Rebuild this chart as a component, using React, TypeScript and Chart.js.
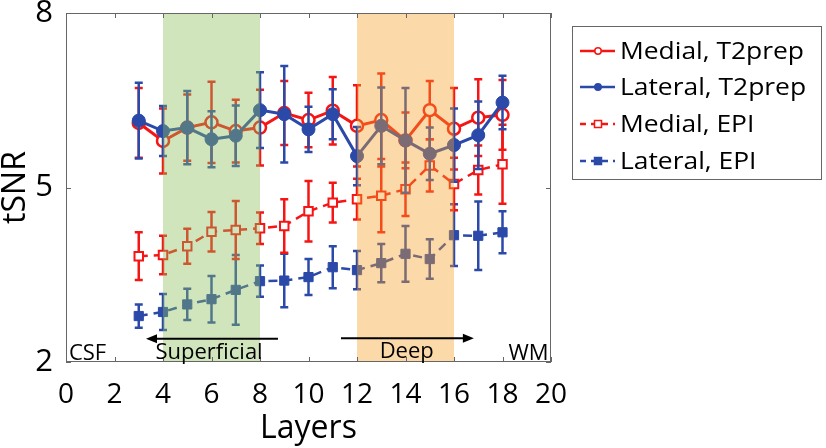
import React, { useEffect, useRef } from "react";
import { Chart, registerables } from "chart.js";

Chart.register(...registerables);

// ---- data ----
const layers = [3, 4, 5, 6, 7, 8, 9, 10, 11, 12, 13, 14, 15, 16, 17, 18];

const medialT2prep = [6.11, 5.8, 6.03, 6.12, 5.97, 6.03, 6.28, 6.16, 6.32, 6.06, 6.16, 5.81, 6.33, 6.01, 6.2, 6.25];
const medialT2prepErr = [0.6, 0.56, 0.57, 0.7, 0.54, 0.65, 0.55, 0.47, 0.58, 0.7, 0.8, 0.48, 0.5, 0.7, 0.66, 0.6];

const lateralT2prep = [6.15, 5.97, 6.03, 5.83, 5.89, 6.33, 6.26, 6.0, 6.26, 5.54, 6.06, 5.81, 5.58, 5.73, 5.9, 6.46];
const lateralT2prepErr = [0.65, 0.43, 0.63, 0.48, 0.52, 0.65, 0.83, 0.39, 0.43, 0.5, 0.66, 0.9, 0.45, 0.63, 0.58, 0.46];

const medialEPI = [3.82, 3.84, 3.99, 4.24, 4.27, 4.3, 4.34, 4.59, 4.74, 4.8, 4.86, 4.97, 5.38, 5.06, 5.3, 5.4];
const medialEPIErr = [0.41, 0.33, 0.3, 0.34, 0.5, 0.27, 0.46, 0.52, 0.34, 0.35, 0.63, 0.46, 0.45, 0.45, 0.42, 0.68];

const lateralEPI = [2.79, 2.86, 2.99, 3.08, 3.24, 3.39, 3.4, 3.46, 3.63, 3.58, 3.7, 3.86, 3.77, 4.18, 4.17, 4.23];
const lateralEPIErr = [0.2, 0.31, 0.27, 0.4, 0.6, 0.27, 0.46, 0.31, 0.36, 0.33, 0.33, 0.48, 0.34, 0.53, 0.59, 0.36];

const xTicks = [0, 2, 4, 6, 8, 10, 12, 14, 16, 18, 20];
const yTicks = [2, 5, 8];

const superficialBand = [4, 8];
const deepBand = [12, 16];

const seriesLabels = ["Medial, T2prep", "Lateral, T2prep", "Medial, EPI", "Lateral, EPI"];

// ---- styles ----
const RED = "#f51515";
const BLUE = "#2a49a8";
const FONT = "'Open Sans', 'DejaVu Sans', sans-serif";

const pts = (vals: number[]) => layers.map((x, i) => ({ x, y: vals[i] }));

const errorBarPlugin = {
  id: "errorBars",
  beforeDatasetDraw(chart: any, args: any) {
    const ds = chart.data.datasets[args.index];
    const errs: number[] = ds.errors;
    if (!errs) return;
    const xs = chart.scales.x;
    const ys = chart.scales.y;
    const ctx = chart.ctx;
    ctx.save();
    ctx.strokeStyle = ds.borderColor;
    ctx.lineWidth = ds.errWidth;
    ctx.setLineDash([]);
    ds.data.forEach((p: any, i: number) => {
      const x = xs.getPixelForValue(p.x);
      const y1 = ys.getPixelForValue(p.y + errs[i]);
      const y2 = ys.getPixelForValue(p.y - errs[i]);
      ctx.beginPath();
      ctx.moveTo(x, y1);
      ctx.lineTo(x, y2);
      ctx.moveTo(x - 4, y1);
      ctx.lineTo(x + 4, y1);
      ctx.moveTo(x - 4, y2);
      ctx.lineTo(x + 4, y2);
      ctx.stroke();
    });
    ctx.restore();
  },
};

const bandPlugin = {
  id: "bands",
  afterDatasetsDraw(chart: any) {
    const { ctx, chartArea } = chart;
    const xs = chart.scales.x;
    const draw = (band: number[], color: string) => {
      const a = xs.getPixelForValue(band[0]);
      const b = xs.getPixelForValue(band[1]);
      ctx.save();
      ctx.fillStyle = color;
      ctx.fillRect(a, chartArea.top, b - a, chartArea.bottom - chartArea.top);
      ctx.restore();
    };
    draw(superficialBand, "rgba(140,190,90,0.4)");
    draw(deepBand, "rgba(245,160,37,0.4)");
  },
};

const framePlugin = {
  id: "frame",
  afterDraw(chart: any) {
    const { ctx, chartArea } = chart;
    const xs = chart.scales.x;
    const ys = chart.scales.y;
    ctx.save();
    ctx.strokeStyle = "#666";
    ctx.lineWidth = 1;
    ctx.strokeRect(chartArea.left + 0.5, chartArea.top + 0.5, chartArea.right - chartArea.left - 1, chartArea.bottom - chartArea.top - 1);
    ctx.beginPath();
    xTicks.forEach((v) => {
      const x = Math.round(xs.getPixelForValue(v)) + 0.5;
      ctx.moveTo(x, chartArea.bottom);
      ctx.lineTo(x, chartArea.bottom - 5);
      ctx.moveTo(x, chartArea.top);
      ctx.lineTo(x, chartArea.top + 5);
    });
    yTicks.forEach((v) => {
      const y = Math.round(ys.getPixelForValue(v)) + 0.5;
      ctx.moveTo(chartArea.left, y);
      ctx.lineTo(chartArea.left + 5, y);
      ctx.moveTo(chartArea.right, y);
      ctx.lineTo(chartArea.right - 5, y);
    });
    ctx.stroke();

    // annotations
    ctx.fillStyle = "#000";
    ctx.strokeStyle = "#000";
    ctx.font = `22px ${FONT}`;
    ctx.textBaseline = "alphabetic";
    const base = ys.getPixelForValue(2) - 2;
    ctx.textAlign = "left";
    ctx.fillText("CSF", xs.getPixelForValue(0.12), base);
    ctx.textAlign = "right";
    ctx.fillText("WM", xs.getPixelForValue(19.9), base);
    ctx.textAlign = "center";
    ctx.fillText("Superficial", xs.getPixelForValue(5.9), base - 1);
    ctx.fillText("Deep", xs.getPixelForValue(14.05), base - 2);

    const arrow = (x0: number, x1: number, yv: number) => {
      const px0 = xs.getPixelForValue(x0);
      const px1 = xs.getPixelForValue(x1);
      const py = ys.getPixelForValue(yv);
      const dir = Math.sign(px1 - px0);
      ctx.lineWidth = 2;
      ctx.beginPath();
      ctx.moveTo(px0, py);
      ctx.lineTo(px1 - dir * 6, py);
      ctx.stroke();
      ctx.beginPath();
      ctx.moveTo(px1, py);
      ctx.lineTo(px1 - dir * 11, py - 4.5);
      ctx.lineTo(px1 - dir * 11, py + 4.5);
      ctx.closePath();
      ctx.fill();
    };
    arrow(8.74, 3.3, 2.4);
    arrow(11.34, 16.82, 2.41);

    // legend
    const lx = 572, ly = 26, lw = 249, lh = 153;
    ctx.strokeStyle = "#666";
    ctx.lineWidth = 1;
    ctx.strokeRect(lx + 0.5, ly + 0.5, lw, lh);
    const rowsY = [51, 87, 124, 161];
    const styles = [
      { color: RED, dash: [], shape: "circle", fill: "#fff" },
      { color: BLUE, dash: [], shape: "circle", fill: BLUE },
      { color: RED, dash: [6, 5], shape: "rect", fill: "#fff" },
      { color: BLUE, dash: [6, 5], shape: "rect", fill: BLUE },
    ];
    ctx.font = `24px ${FONT}`;
    const w0 = ctx.measureText(seriesLabels[0]).width;
    const sx = 184 / w0;
    seriesLabels.forEach((label, i) => {
      const st = styles[i];
      const y = rowsY[i];
      ctx.save();
      ctx.strokeStyle = st.color;
      ctx.lineWidth = 2.5;
      ctx.setLineDash(st.dash);
      ctx.beginPath();
      ctx.moveTo(580, y);
      ctx.lineTo(615, y);
      ctx.stroke();
      ctx.setLineDash([]);
      ctx.fillStyle = st.fill;
      ctx.lineWidth = 1.5;
      ctx.beginPath();
      if (st.shape === "circle") ctx.arc(598, y, 3.2, 0, Math.PI * 2);
      else ctx.rect(594.5, y - 3.5, 7, 7);
      ctx.fill();
      ctx.stroke();
      ctx.restore();
      ctx.save();
      ctx.fillStyle = "#000";
      ctx.textAlign = "left";
      ctx.textBaseline = "middle";
      ctx.translate(620, y);
      ctx.scale(sx, 1);
      ctx.fillText(label, 0, 1);
      ctx.restore();
    });
    ctx.restore();
  },
};

export default function App() {
  const ref = useRef<HTMLCanvasElement>(null);
  useEffect(() => {
    if (!ref.current) return;
    const chart = new Chart(ref.current, {
      type: "line",
      data: {
        datasets: [
          {
            label: seriesLabels[3],
            data: pts(lateralEPI),
            errors: lateralEPIErr,
            errWidth: 2.5,
            borderColor: BLUE,
            backgroundColor: BLUE,
            borderWidth: 2.5,
            borderDash: [9, 6],
            pointStyle: "rect",
            pointRadius: 6.5,
            pointBorderWidth: 1,
            pointBorderColor: BLUE,
            pointBackgroundColor: BLUE,
          } as any,
          {
            label: seriesLabels[2],
            data: pts(medialEPI),
            errors: medialEPIErr,
            errWidth: 2.5,
            borderColor: RED,
            backgroundColor: "#fff",
            borderWidth: 2.5,
            borderDash: [9, 6],
            pointStyle: "rect",
            pointRadius: 6,
            pointBorderWidth: 2,
            pointBorderColor: RED,
            pointBackgroundColor: "#fff",
          } as any,
          {
            label: seriesLabels[0],
            data: pts(medialT2prep),
            errors: medialT2prepErr,
            errWidth: 2.5,
            borderColor: RED,
            backgroundColor: "#fff",
            borderWidth: 3,
            pointStyle: "circle",
            pointRadius: 6,
            pointBorderWidth: 2.5,
            pointBorderColor: RED,
            pointBackgroundColor: "#fff",
          } as any,
          {
            label: seriesLabels[1],
            data: pts(lateralT2prep),
            errors: lateralT2prepErr,
            errWidth: 2.5,
            borderColor: BLUE,
            backgroundColor: BLUE,
            borderWidth: 3,
            pointStyle: "circle",
            pointRadius: 6.5,
            pointBorderWidth: 1,
            pointBorderColor: BLUE,
            pointBackgroundColor: BLUE,
          } as any,
        ].reverse(),
      },
      options: {
        animation: false,
        responsive: false,
        devicePixelRatio: 1,
        layout: { padding: { top: 13, right: 275, left: 0, bottom: 0 } },
        plugins: { legend: { display: false }, tooltip: { enabled: false } },
        scales: {
          x: {
            type: "linear",
            min: 0,
            max: 20,
            grid: { display: false },
            border: { display: false },
            ticks: { stepSize: 2, color: "#000", font: { family: FONT, size: 28 }, padding: 8, maxRotation: 0, autoSkip: false },
            title: { display: true, text: "Layers", color: "#000", font: { family: FONT, size: 32 }, padding: { top: 0, bottom: 0 } },
            afterFit(scale: any) {
              scale.height = 86;
              scale.paddingLeft = 0;
              scale.paddingRight = 0;
            },
          },
          y: {
            type: "linear",
            min: 2,
            max: 8,
            grid: { display: false },
            border: { display: false },
            afterBuildTicks(scale: any) {
              scale.ticks = yTicks.map((v) => ({ value: v }));
            },
            ticks: { color: "#000", font: { family: FONT, size: 31 }, padding: 5 },
            title: { display: true, text: "tSNR", color: "#000", font: { family: FONT, size: 32, lineHeight: 1 }, padding: 0 },
            afterFit(scale: any) {
              scale.width = 66;
              scale.paddingTop = 0;
              scale.paddingBottom = 0;
            },
          },
        },
      } as any,
      plugins: [errorBarPlugin, bandPlugin, framePlugin],
    });
    return () => chart.destroy();
  }, []);
  return (
    <div style={{ position: "fixed", left: 0, top: 0, width: 826, height: 448, background: "#fff" }}>
      <canvas ref={ref} width={826} height={448} style={{ display: "block" }} />
    </div>
  );
}
